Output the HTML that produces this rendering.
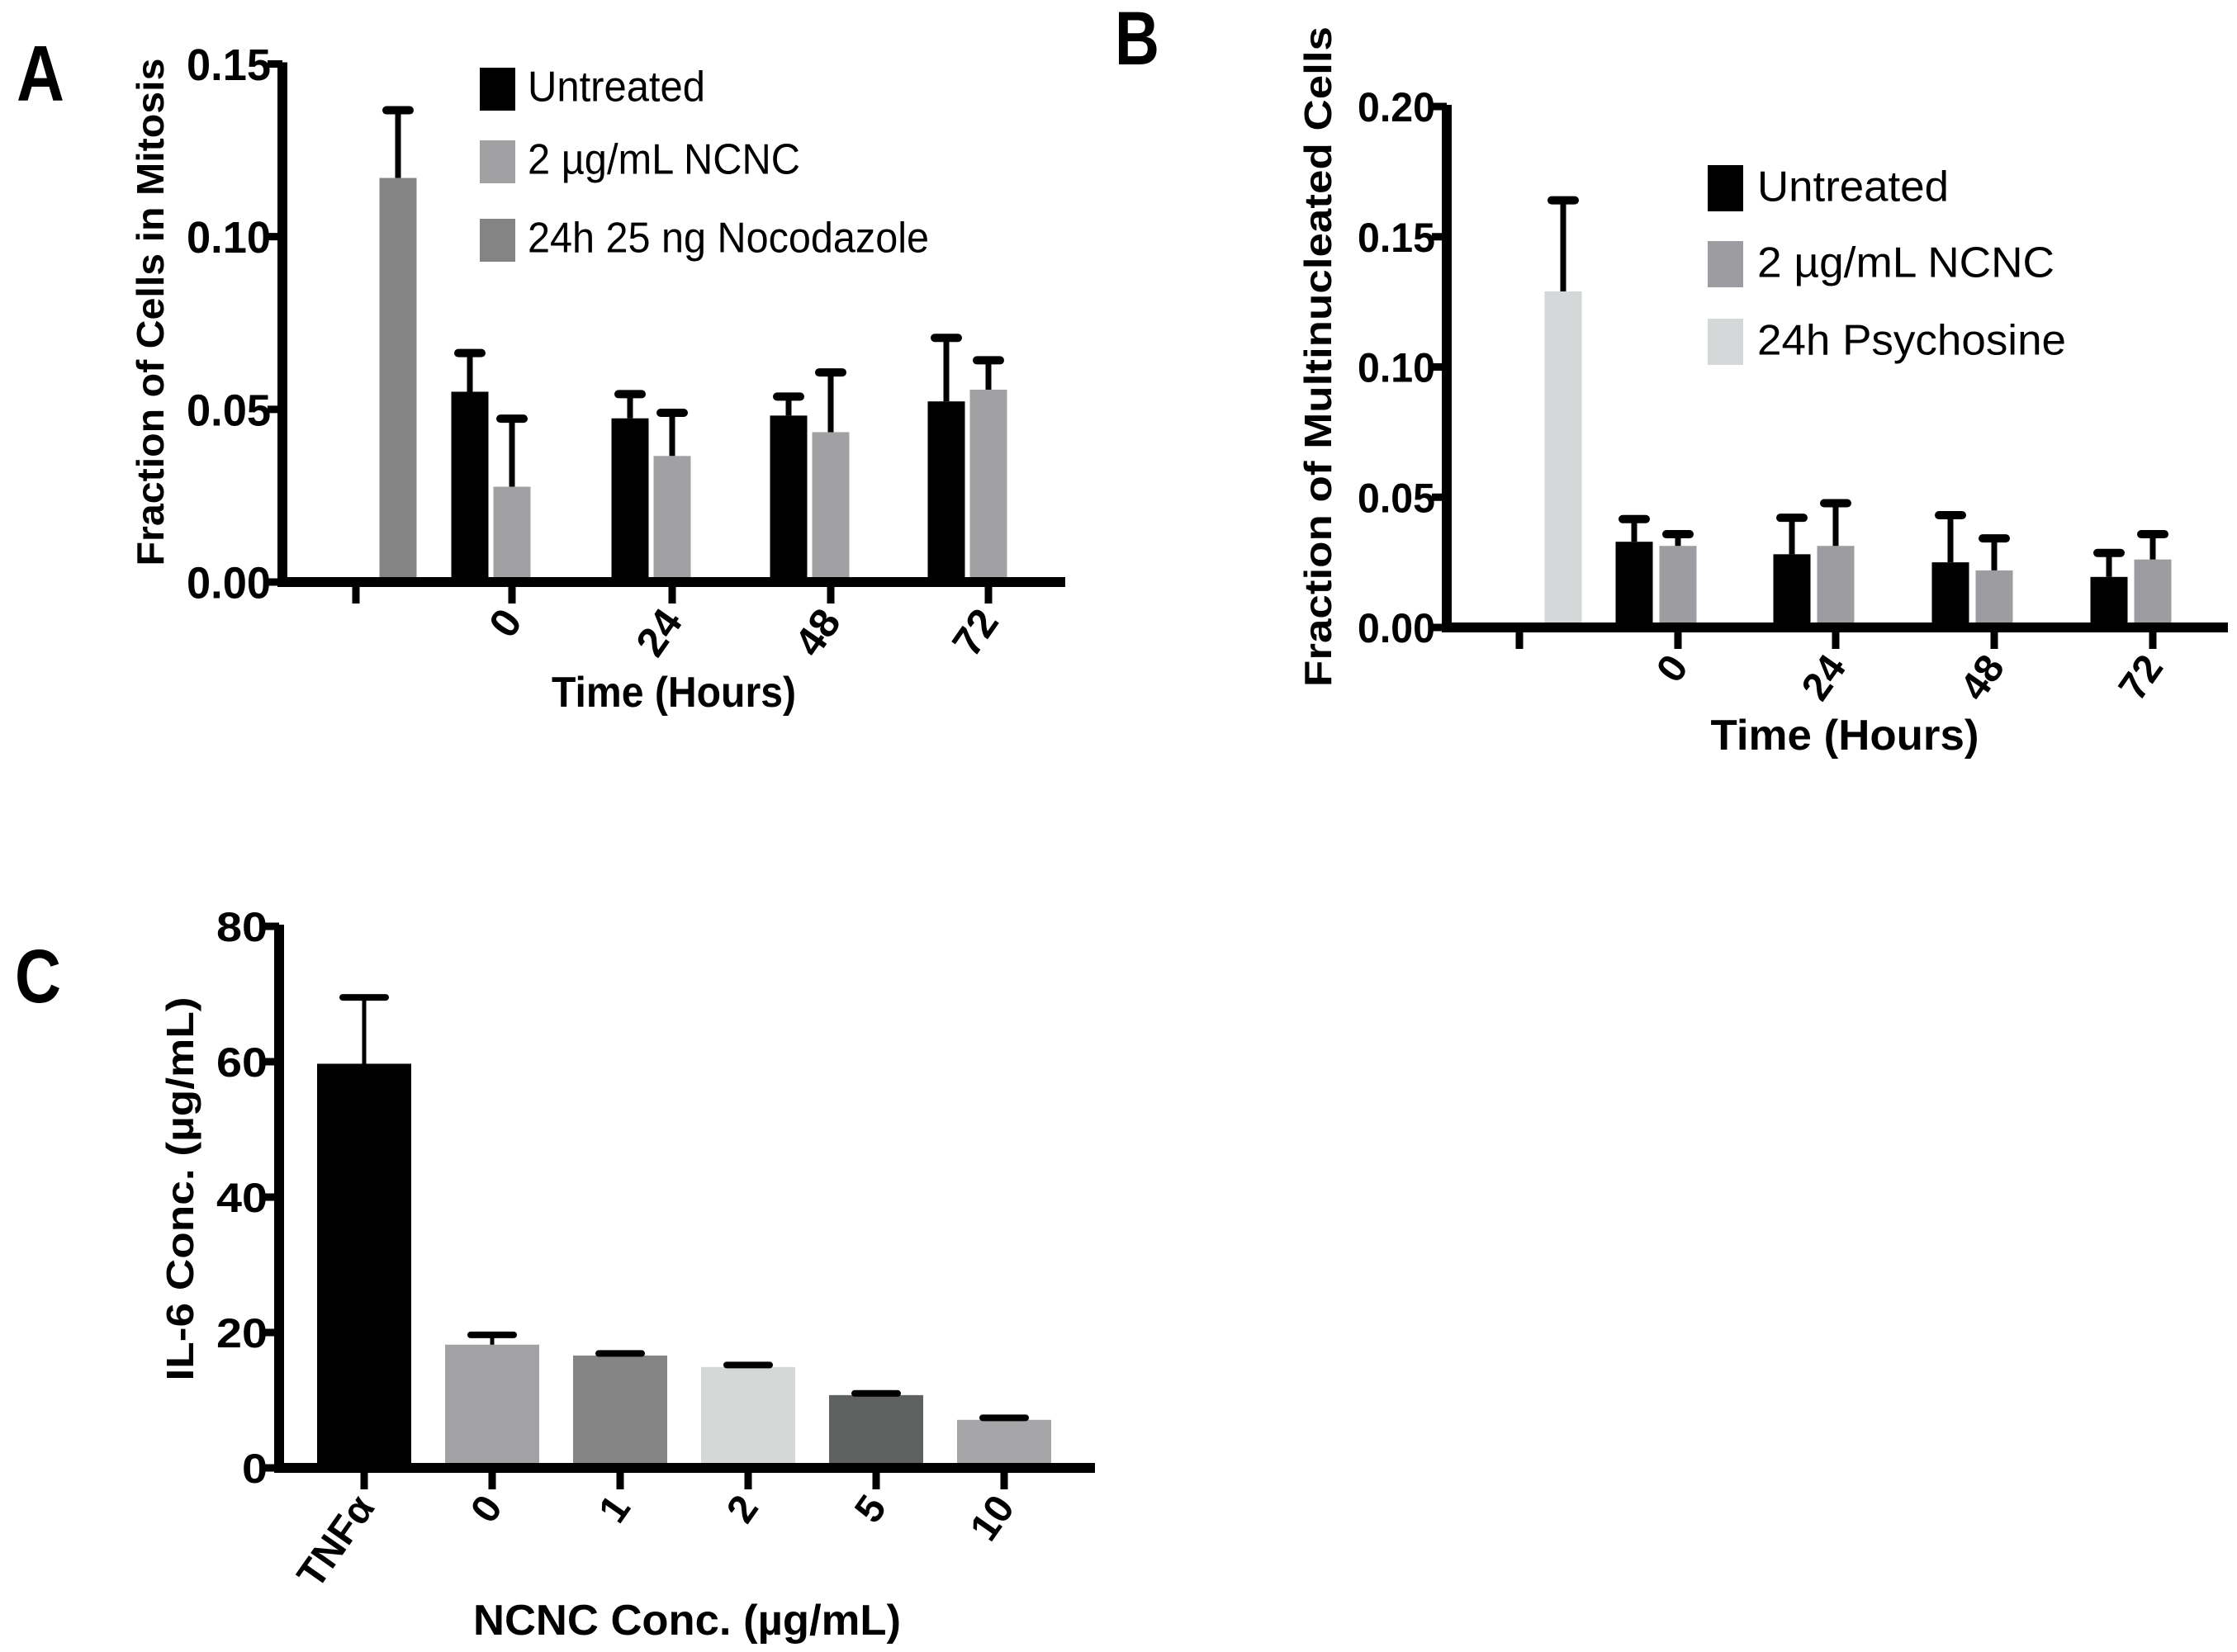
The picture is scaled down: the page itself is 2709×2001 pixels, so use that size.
<!DOCTYPE html>
<html><head><meta charset="utf-8"><style>
html,body{margin:0;padding:0;background:#fff}
svg{display:block}
text{font-family:"Liberation Sans",Arial,sans-serif;font-weight:bold;fill:#000}
</style></head><body>
<svg id="fig" xmlns="http://www.w3.org/2000/svg" width="2709" height="2001" viewBox="0 0 2709 2001">
<rect width="2709" height="2001" fill="#fff"/>
</svg>
<script>
// ---- Panel A data ----
const aGroups = ["", "0", "24", "48", "72"];
const aUntreated = [null, 0.0551, 0.0474, 0.0482, 0.0523];
const aUntreatedErr = [null, 0.0663, 0.0544, 0.0537, 0.0707];
const aNcnc = [null, 0.0276, 0.0365, 0.0434, 0.0557];
const aNcncErr = [null, 0.0473, 0.0490, 0.0607, 0.0642];
const aNoco = [0.117, null, null, null, null];
const aNocoErr = [0.1366, null, null, null, null];
const aYTicks = [0, 0.05, 0.10, 0.15];
const aYTickLabels = ["0.00", "0.05", "0.10", "0.15"];
// ---- Panel B data ----
const bGroups = ["", "0", "24", "48", "72"];
const bUntreated = [null, 0.0329, 0.0281, 0.0250, 0.0194];
const bUntreatedErr = [null, 0.0416, 0.0421, 0.0431, 0.0286];
const bNcnc = [null, 0.0313, 0.0313, 0.0219, 0.0261];
const bNcncErr = [null, 0.0358, 0.0477, 0.0342, 0.0358];
const bPsy = [0.129, null, null, null, null];
const bPsyErr = [0.164, null, null, null, null];
const bYTicks = [0, 0.05, 0.10, 0.15, 0.20];
const bYTickLabels = ["0.00", "0.05", "0.10", "0.15", "0.20"];
// ---- Panel C data ----
const cCategories = ["TNF\u03b1", "0", "1", "2", "5", "10"];
const cValues = [59.7, 18.2, 16.6, 14.9, 10.75, 7.1];
const cErr = [69.5, 19.65, 16.9, 15.2, 11.0, 7.4];
const cYTicks = [0, 20, 40, 60, 80];
const cYTickLabels = ["0", "20", "40", "60", "80"];

const NS = "http://www.w3.org/2000/svg";
const svg = document.getElementById("fig");
function mk(tag, attrs, parent, txt) {
  const e = document.createElementNS(NS, tag);
  for (const k in attrs) e.setAttribute(k, attrs[k]);
  if (txt !== undefined) e.textContent = txt;
  (parent || svg).appendChild(e);
  return e;
}
function group(name) {
  const g = mk("g", {});
  
  
  return g;
}
function linear(d0, d1, r0, r1) { return v => r0 + (v - d0) / (d1 - d0) * (r1 - r0); }

function drawBar(g, x, w, y0, ytop, fill, name) {
  const r = mk("rect", {x: x - w / 2, y: ytop, width: w, height: y0 - ytop, fill: fill}, g);
  
  
}
function drawErr(g, x, ytop, yerr, capW, lw, name) {
  const l = mk("line", {x1: x, x2: x, y1: ytop, y2: yerr, stroke: "#000", "stroke-width": lw}, g);
  
  
  const c = mk("line", {x1: x - capW / 2, x2: x + capW / 2, y1: yerr, y2: yerr, stroke: "#000", "stroke-width": lw + 3, "stroke-linecap": "round"}, g);
  
  
}
function axes(g, ax, ay, xEnd, yTop, yTicks, yLabels, yScale, fs, labW) {
  const ya = mk("line", {x1: ax, x2: ax, y1: yTop - 2, y2: ay + 6, stroke: "#000", "stroke-width": 12}, g);
  
  
  const xa = mk("line", {x1: ax - 6, x2: xEnd, y1: ay, y2: ay, stroke: "#000", "stroke-width": 12}, g);
  
  
  yTicks.forEach((t, i) => {
    const y = yScale(t);
    const tk = mk("line", {x1: ax - 18, x2: ax, y1: y, y2: y, stroke: "#000", "stroke-width": 9}, g);
    
    
    const tx = mk("text", {x: ax - 14, y: y + fs * 0.36, "font-size": fs, "text-anchor": "end", textLength: labW * yLabels[i].length / 4, lengthAdjust: "spacingAndGlyphs"}, g, yLabels[i]);
    
    
  });
}
function xTick(g, x, ay, label, fs, ang) {
  const tk = mk("line", {x1: x, x2: x, y1: ay, y2: ay + 26, stroke: "#000", "stroke-width": 9}, g);
  
  
  if (label !== "") {
    const px = x + 14, py = ay + 48;
    const t = mk("text", {x: px, y: py, "font-size": fs, "text-anchor": "end", transform: `rotate(${ang} ${px} ${py})`}, g, label);
    
    
  }
}
function legend(g, x, ys, h, colors, labels, fs, textX, widths) {
  labels.forEach((lab, i) => {
    const r = mk("rect", {x: x, y: ys[i], width: 43, height: h, fill: colors[i]}, g);
    
    
    const t = mk("text", {x: textX, y: ys[i] + h * 0.78, "font-size": fs, textLength: widths[i], lengthAdjust: "spacingAndGlyphs", style: "font-weight:normal"}, g, lab);
    
    
  });
}
function label(g, txt, x, y, fs, opts) {
  const a = Object.assign({x: x, y: y, "font-size": fs}, opts || {});
  return mk("text", a, g, txt);
}

// ================= Panel A =================
(function () {
  const g = group("panel-a");
  const ax = 342, ay = 705, xEnd = 1290;
  const y = linear(0, 0.15, 705, 77.5);
  const ticksX = [431, 620, 814, 1006, 1197];
  const off = 51, bw = 45;
  aGroups.forEach((lab, i) => {
    const cx = ticksX[i];
    if (aUntreated[i] != null) { drawBar(g, cx - off, bw, ay, y(aUntreated[i]), "#000", "bar-untreated-" + lab); drawErr(g, cx - off, y(aUntreated[i]), y(aUntreatedErr[i]), 28, 7, "error-untreated-" + lab); }
    if (aNcnc[i] != null) { drawBar(g, cx, bw, ay, y(aNcnc[i]), "#a1a1a4", "bar-ncnc-" + lab); drawErr(g, cx, y(aNcnc[i]), y(aNcncErr[i]), 28, 7, "error-ncnc-" + lab); }
    if (aNoco[i] != null) { drawBar(g, cx + off, bw, ay, y(aNoco[i]), "#848484", "bar-nocodazole"); drawErr(g, cx + off, y(aNoco[i]), y(aNocoErr[i]), 28, 7, "error-nocodazole"); }
  });
  axes(g, ax, ay, xEnd, 77.5, aYTicks, aYTickLabels, y, 54, 102);
  aGroups.forEach((lab, i) => xTick(g, ticksX[i], ay, lab, 50, -55));
  legend(g, 581, [82, 170, 265], 52, ["#000", "#a1a1a4", "#848484"], ["Untreated", "2 \u00b5g/mL NCNC", "24h 25 ng Nocodazole"], 52, 639, [215, 330, 486]);
  const t1 = label(g, "Fraction of Cells in Mitosis", 0, 0, 46, {transform: "translate(198 378) rotate(-90)", "text-anchor": "middle", textLength: 615, lengthAdjust: "spacingAndGlyphs"});
   
  const t2 = label(g, "Time (Hours)", 816, 856, 52, {"text-anchor": "middle", textLength: 296, lengthAdjust: "spacingAndGlyphs"});
   
  const t3 = label(g, "A", 20, 122, 96, {textLength: 58, lengthAdjust: "spacingAndGlyphs"});
   
})();

// ================= Panel B =================
(function () {
  const g = group("panel-b");
  const ax = 1752, ay = 760, xEnd = 2698;
  const y = linear(0, 0.20, 760, 129);
  const ticksX = [1840, 2032, 2223, 2415, 2607];
  const off = 53, bw = 45;
  bGroups.forEach((lab, i) => {
    const cx = ticksX[i];
    if (bUntreated[i] != null) { drawBar(g, cx - off, bw, ay, y(bUntreated[i]), "#000", "bar-untreated-" + lab); drawErr(g, cx - off, y(bUntreated[i]), y(bUntreatedErr[i]), 28, 7, "error-untreated-" + lab); }
    if (bNcnc[i] != null) { drawBar(g, cx, bw, ay, y(bNcnc[i]), "#9d9da1", "bar-ncnc-" + lab); drawErr(g, cx, y(bNcnc[i]), y(bNcncErr[i]), 28, 7, "error-ncnc-" + lab); }
    if (bPsy[i] != null) { drawBar(g, cx + off, bw, ay, y(bPsy[i]), "#d5d8d8", "bar-psychosine"); drawErr(g, cx + off, y(bPsy[i]), y(bPsyErr[i]), 28, 7, "error-psychosine"); }
  });
  axes(g, ax, ay, xEnd, 129, bYTicks, bYTickLabels, y, 50, 94);
  bGroups.forEach((lab, i) => xTick(g, ticksX[i], ay, lab, 48, -55));
  legend(g, 2068, [200, 292, 386], 56, ["#000", "#9d9da1", "#d5d8d8"], ["Untreated", "2 \u00b5g/mL NCNC", "24h Psychosine"], 52, 2128, [232, 360, 374]);
  const t1 = label(g, "Fraction of Multinucleated Cells", 0, 0, 46, {transform: "translate(1612 432) rotate(-90)", "text-anchor": "middle", textLength: 800, lengthAdjust: "spacingAndGlyphs"});
   
  const t2 = label(g, "Time (Hours)", 2234, 908, 52, {"text-anchor": "middle", textLength: 325, lengthAdjust: "spacingAndGlyphs"});
   
  const t3 = label(g, "B", 1350, 78, 92, {textLength: 54, lengthAdjust: "spacingAndGlyphs"});
   
})();

// ================= Panel C =================
(function () {
  const g = group("panel-c");
  const ax = 338, ay = 1778, xEnd = 1326;
  const y = linear(0, 80, 1778, 1122);
  const x0 = 441, step = 155, bw = 114;
  const colors = ["#000", "#a2a2a5", "#848484", "#d6d8d8", "#5f6161", "#a6a6a8"];
  cCategories.forEach((c, i) => {
    const cx = x0 + i * step;
    drawBar(g, cx, bw, ay, y(cValues[i]), colors[i], "bar-" + c);
    drawErr(g, cx, y(cValues[i]), y(cErr[i]), 52, 5, "error-" + c);
  });
  axes(g, ax, ay, xEnd, 1122, cYTicks, cYTickLabels, y, 50, 124);
  cCategories.forEach((c, i) => xTick(g, x0 + i * step, ay, c, 48, -55));
  const t1 = label(g, "IL-6 Conc. (\u00b5g/mL)", 0, 0, 46, {transform: "translate(234 1440) rotate(-90)", "text-anchor": "middle", textLength: 465, lengthAdjust: "spacingAndGlyphs"});
   
  const t2 = label(g, "NCNC Conc. (\u00b5g/mL)", 832, 1980, 52, {"text-anchor": "middle", textLength: 518, lengthAdjust: "spacingAndGlyphs"});
   
  const t3 = label(g, "C", 18, 1214, 92, {textLength: 56, lengthAdjust: "spacingAndGlyphs"});
   
})();
</script>
</body></html>
